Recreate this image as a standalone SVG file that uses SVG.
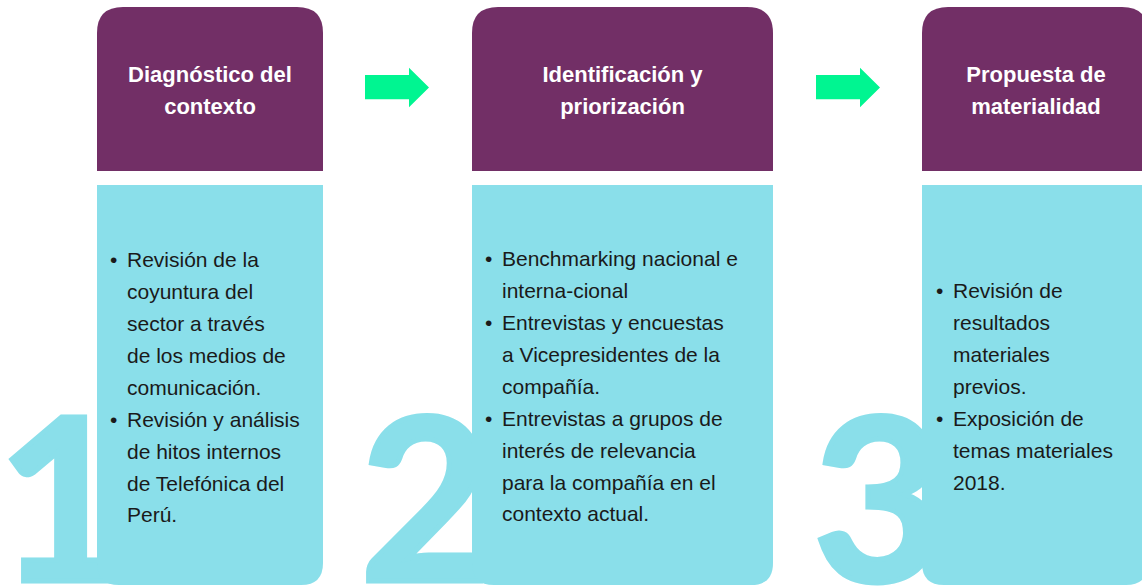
<svg xmlns="http://www.w3.org/2000/svg" width="1142" height="586" viewBox="0 0 1142 586">
<style>
.num{font-family:Lato,"DejaVu Sans",sans-serif;font-weight:700;font-size:226px;fill:#8adfea;stroke:#8adfea;stroke-width:5;stroke-linejoin:miter}
.head{fill:#722f66}
.body{fill:#8adfea}
.ht{font-family:"Liberation Sans",Arial,sans-serif;font-weight:700;font-size:22px;fill:#ffffff;text-anchor:middle}
.bt{font-family:"Liberation Sans",Arial,sans-serif;font-size:21px;fill:#1a1a1a}
.arrow{fill:#00f591}
</style>
<rect width="1142" height="586" fill="#ffffff"/>
<g id="numerals">
<text class="num" x="-3" y="581">1</text>
<text class="num" x="360" y="581">2</text>
<text class="num" x="813" y="581">3</text>
</g>
<g id="step1">
<path class="head" d="M97,171 V33 Q97,7 123,7 H297 Q323,7 323,33 V171 Z"/>
<path class="body" d="M97,185 H323 V563 Q323,585 301,585 H119 Q97,585 97,563 Z"/>
<text class="ht" x="210" y="82">Diagnóstico del</text>
<text class="ht" x="210" y="114">contexto</text>
<text class="bt" x="110" y="267">•</text>
<text class="bt" x="110" y="427">•</text>
<text class="bt">
<tspan x="127" y="267">Revisión de la</tspan>
<tspan x="127" y="299">coyuntura del</tspan>
<tspan x="127" y="331">sector a través</tspan>
<tspan x="127" y="363">de los medios de</tspan>
<tspan x="127" y="395">comunicación.</tspan>
<tspan x="127" y="427">Revisión y análisis</tspan>
<tspan x="127" y="459">de hitos internos</tspan>
<tspan x="127" y="491">de Telefónica del</tspan>
<tspan x="127" y="522">Perú.</tspan>
</text>
</g>
<g id="step2">
<path class="head" d="M472,171 V33 Q472,7 498,7 H747 Q773,7 773,33 V171 Z"/>
<path class="body" d="M472,185 H773 V563 Q773,585 751,585 H494 Q472,585 472,563 Z"/>
<text class="ht" x="622.5" y="82">Identificación y</text>
<text class="ht" x="622.5" y="114">priorización</text>
<text class="bt" x="485" y="266">•</text>
<text class="bt" x="485" y="330">•</text>
<text class="bt" x="485" y="426">•</text>
<text class="bt">
<tspan x="502" y="266">Benchmarking nacional e</tspan>
<tspan x="502" y="298">interna-cional</tspan>
<tspan x="502" y="330">Entrevistas y encuestas</tspan>
<tspan x="502" y="362">a Vicepresidentes de la</tspan>
<tspan x="502" y="394">compañía.</tspan>
<tspan x="502" y="426">Entrevistas a grupos de</tspan>
<tspan x="502" y="458">interés de relevancia</tspan>
<tspan x="502" y="490">para la compañía en el</tspan>
<tspan x="502" y="521">contexto actual.</tspan>
</text>
</g>
<g id="step3">
<path class="head" d="M922,171 V33 Q922,7 948,7 H1122 Q1148,7 1148,33 V171 Z"/>
<path class="body" d="M922,185 H1148 V563 Q1148,585 1126,585 H944 Q922,585 922,563 Z"/>
<text class="ht" x="1036" y="82">Propuesta de</text>
<text class="ht" x="1036" y="114">materialidad</text>
<text class="bt" x="936" y="298">•</text>
<text class="bt" x="936" y="426">•</text>
<text class="bt">
<tspan x="953" y="298">Revisión de</tspan>
<tspan x="953" y="330">resultados</tspan>
<tspan x="953" y="362">materiales</tspan>
<tspan x="953" y="394">previos.</tspan>
<tspan x="953" y="426">Exposición de</tspan>
<tspan x="953" y="458">temas materiales</tspan>
<tspan x="953" y="490">2018.</tspan>
</text>
</g>
<g id="connectors">
<polygon class="arrow" points="365,75 409,75 409,67.7 429,87.5 409,107.3 409,99.3 365,99.3"/>
<polygon class="arrow" points="816,75 860,75 860,67.7 880,87.5 860,107.3 860,99.3 816,99.3"/>
</g>
</svg>
